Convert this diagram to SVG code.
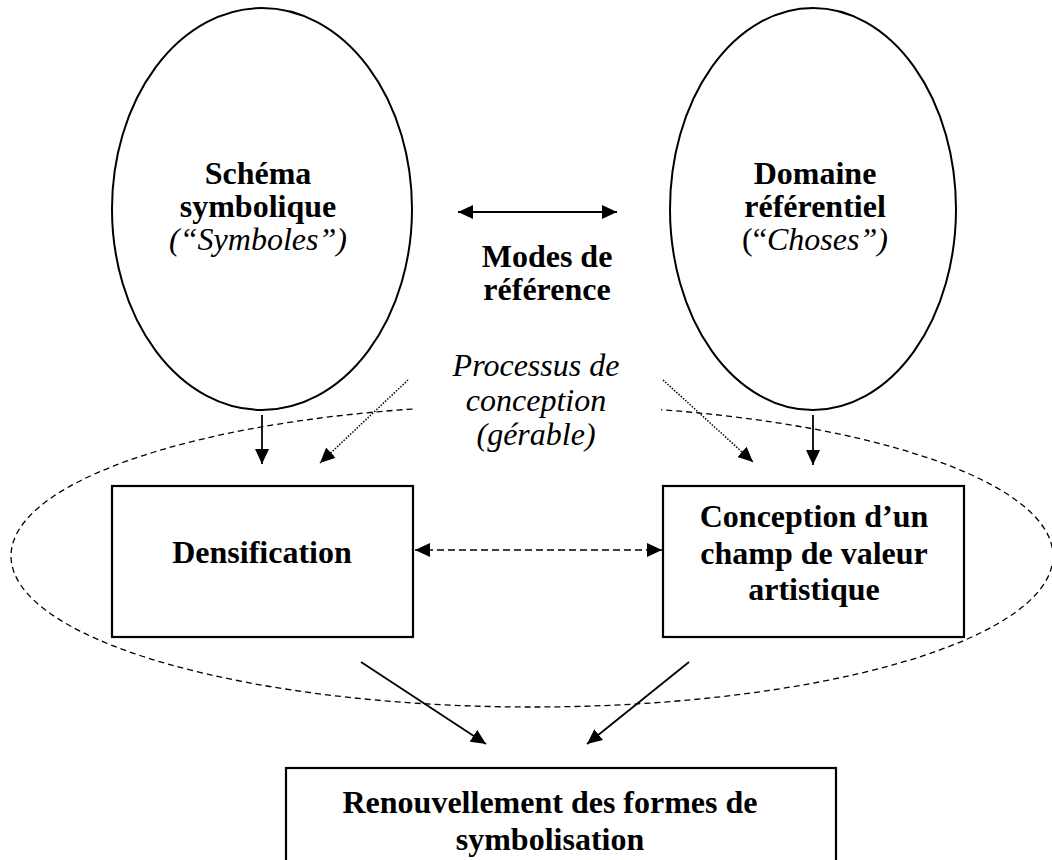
<svg xmlns="http://www.w3.org/2000/svg" width="1052" height="860" viewBox="0 0 1052 860">
<style>
.t{font-family:"Liberation Serif","Times New Roman",serif;font-size:32px;fill:#000;text-anchor:middle}
.b{font-weight:bold}
.i{font-style:italic}
.shape{fill:none;stroke:#000;stroke-width:2}
.box{fill:#fff;stroke:#000;stroke-width:2.2}
.solid{fill:none;stroke:#000;stroke-width:1.8}
.dashed{fill:none;stroke:#000;stroke-width:1.5;stroke-dasharray:7 4}
.dotted{fill:none;stroke:#000;stroke-width:1.5;stroke-dasharray:1.5 1.5}
.zone{fill:none;stroke:#000;stroke-width:1.3;stroke-dasharray:6 4}
</style>
<defs>
<marker id="ah" markerUnits="userSpaceOnUse" markerWidth="16" markerHeight="14" refX="15" refY="7" orient="auto-start-reverse">
<path d="M0,0 L15,7 L0,14 z" fill="#000"/>
</marker>
</defs>
<rect width="1052" height="860" fill="#fff"/>

<g id="zone-conception">
<ellipse class="zone" cx="532" cy="556" rx="521" ry="151"/>
</g>

<g id="schema-symbolique">
<ellipse class="shape" cx="262" cy="209" rx="150" ry="201"/>
<text class="t" x="258" y="184"><tspan class="b" x="258">Schéma</tspan><tspan class="b" x="258" dy="33">symbolique</tspan><tspan class="i" x="258" dy="33">(“Symboles”)</tspan></text>
</g>

<g id="domaine-referentiel">
<ellipse class="shape" cx="813" cy="209" rx="143" ry="201"/>
<text class="t" x="815" y="184"><tspan class="b" x="815">Domaine</tspan><tspan class="b" x="815" dy="33">référentiel</tspan><tspan x="815" dy="33">(“<tspan class="i">Choses”)</tspan></tspan></text>
</g>

<g id="modes-reference">
<text class="t b" x="547" y="267"><tspan x="547">Modes de</tspan><tspan x="547" dy="33">référence</tspan></text>
</g>

<g id="processus-conception">
<rect x="413" y="342" width="248" height="118" fill="#fff"/>
<text class="t i" x="536" y="376"><tspan x="536">Processus de</tspan><tspan x="536" dy="34.5">conception</tspan><tspan x="536" dy="34.5">(gérable)</tspan></text>
</g>

<g id="densification">
<rect class="box" x="112" y="486" width="301" height="151"/>
<text class="t b" x="262" y="563">Densification</text>
</g>

<g id="conception-champ">
<rect class="box" x="663" y="486" width="301" height="151"/>
<text class="t b" x="814" y="527"><tspan x="814">Conception d’un</tspan><tspan x="814" dy="36.5">champ de valeur</tspan><tspan x="814" dy="36.5">artistique</tspan></text>
</g>

<g id="renouvellement">
<rect class="box" x="286" y="768" width="550" height="110"/>
<text class="t b" x="550" y="813"><tspan x="550">Renouvellement des formes de</tspan><tspan x="550" dy="37">symbolisation</tspan></text>
</g>

<g id="connectors">
<line class="solid" x1="458" y1="212" x2="617" y2="212" marker-start="url(#ah)" marker-end="url(#ah)"/>
<line class="solid" x1="262" y1="415" x2="262" y2="464" marker-end="url(#ah)"/>
<line class="solid" x1="813" y1="415" x2="813" y2="465" marker-end="url(#ah)"/>
<line class="dotted" x1="408" y1="380" x2="320" y2="463" marker-end="url(#ah)"/>
<line class="dotted" x1="663" y1="380" x2="753" y2="462" marker-end="url(#ah)"/>
<line class="dashed" x1="415" y1="550" x2="662" y2="550" marker-start="url(#ah)" marker-end="url(#ah)"/>
<line class="solid" x1="361" y1="662" x2="486" y2="744" marker-end="url(#ah)"/>
<line class="solid" x1="689" y1="662" x2="587" y2="744" marker-end="url(#ah)"/>
</g>
</svg>
